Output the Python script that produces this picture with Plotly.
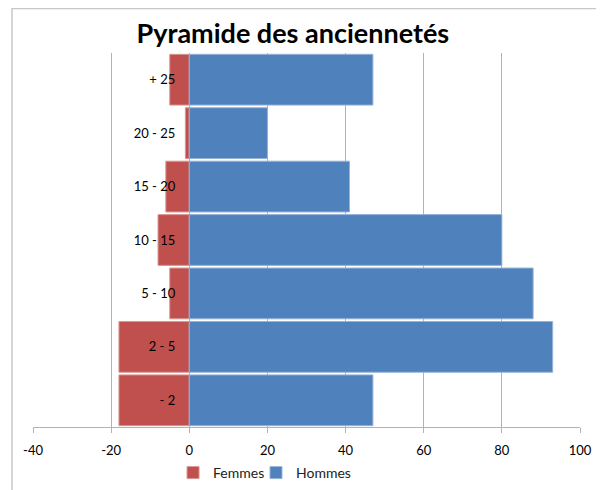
import plotly.graph_objects as go

categories = ["- 2", "2 - 5", "5 - 10", "10 - 15", "15 - 20", "20 - 25", "+ 25"]
femmes = [18, 18, 5, 8, 6, 1, 5]
hommes = [47, 93, 88, 80, 41, 20, 47]
x_ticks = [-40, -20, 0, 20, 40, 60, 80, 100]
x_tick_labels = ["-40", "-20", "0", "20", "40", "60", "80", "100"]

FONT = "Lato"

fig = go.Figure()
fig.add_trace(go.Bar(
    y=categories, x=[-v for v in femmes], orientation="h", name="Femmes",
    marker=dict(color="#C0504D", line=dict(color="#D99694", width=1)),
    legend="legend",
))
fig.add_trace(go.Bar(
    y=categories, x=hommes, orientation="h", name="Hommes",
    marker=dict(color="#4F81BD", line=dict(color="#95B3D7", width=1)),
    legend="legend2",
))

legend_common = dict(orientation="h", xanchor="left", y=-0.123, yanchor="middle",
                     font=dict(size=14, color="#222"), itemwidth=30,
                     bgcolor="rgba(0,0,0,0)")

fig.update_layout(
    width=596, height=482,
    margin=dict(l=25, r=24, t=45, b=63, autoexpand=False),
    paper_bgcolor="white", plot_bgcolor="white",
    barmode="relative", bargap=0.05,
    font=dict(family=FONT, size=13, color="black"),
    title=dict(text="<b>Pyramide des anciennetés</b>", x=0.478, xanchor="center",
               y=0.948, yanchor="middle", font=dict(family=FONT, size=27, color="black")),
    xaxis=dict(range=[-40, 100], tickvals=x_ticks, ticktext=x_tick_labels,
               showgrid=True, gridcolor="#B3B3B3",
               gridwidth=1, zeroline=False, showline=True, linecolor="#B3B3B3",
               ticks="outside", ticklen=5, tickcolor="#B3B3B3", fixedrange=True,
               ticklabelstandoff=6, tickfont=dict(size=13)),
    yaxis=dict(type="category", anchor="free", position=40/140, side="left",
               showgrid=False, showline=False, zeroline=False, ticks="",
               ticklabelstandoff=14, tickfont=dict(size=13)),
    legend=dict(x=0.256, **legend_common),
    legend2=dict(x=0.4077, **legend_common),
    showlegend=True,
    shapes=[
        dict(type="rect", xref="paper", yref="paper", x0=-0.0384, x1=1.2, y0=-0.3, y1=1.119,
             line=dict(color="#C8C8C8", width=1.5), layer="below"),
    ],
)

fig.write_html("out.html")
